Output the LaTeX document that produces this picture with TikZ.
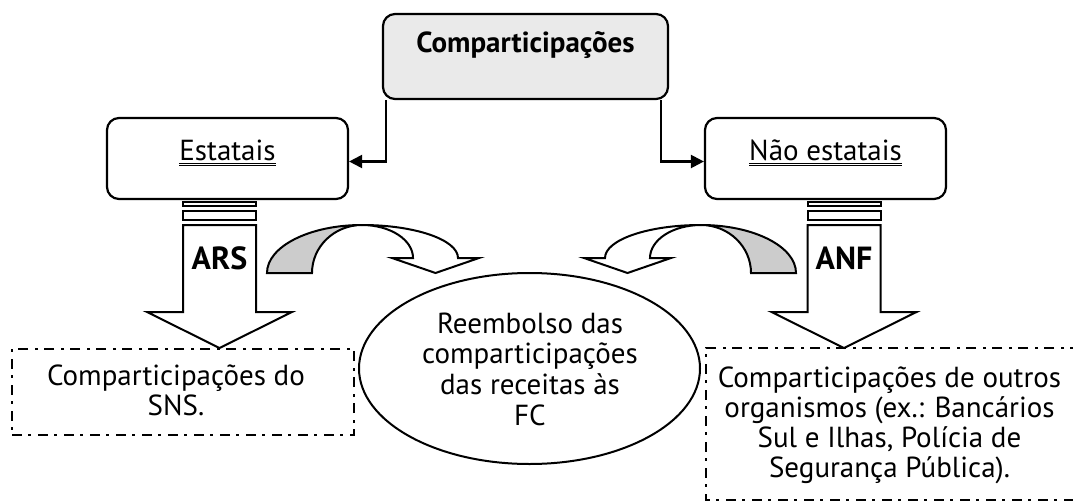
\documentclass[tikz,border=0pt]{standalone}
\usepackage{fontspec}
\setmainfont{PT Sans}
\usetikzlibrary{arrows.meta,shapes.geometric}
\definecolor{headfill}{HTML}{EAEAEA}
\definecolor{bendfill}{HTML}{CCCCCC}
\tikzset{
  txt/.style={font=\fontsize{29}{30}\selectfont, inner sep=0pt},
  boldtxt/.style={font=\bfseries\fontsize{29}{30}\selectfont, inner sep=0pt},
  frame/.style={draw, line width=2.2pt, rounded corners=12pt, inner sep=0pt},
  shapeline/.style={draw, line width=2pt, line join=miter},
  dashbox/.style={draw, line width=2.2pt, dash pattern=on 10pt off 6pt on 3pt off 7pt},
  conn/.style={line width=2.2pt, -{Triangle[length=13pt,width=13pt]}},
  uline/.style={line width=1pt},
  blockdown/.pic={
    \draw[shapeline, fill=white] (-36.5,0) rectangle (36.5,4);
    \draw[shapeline, fill=white] (-36.5,9) rectangle (36.5,18);
    \draw[shapeline, fill=white] (-36.5,23) -- (-36.5,110) -- (-72.5,110)
      -- (0,146) -- (72.5,110) -- (36.5,110) -- (36.5,23) -- cycle;
    \node[font=\bfseries\fontsize{32}{34}\selectfont, inner sep=0pt] at (0,56) {#1};
  }
}
\begin{document}
\begin{tikzpicture}[x=1pt,y=-1pt]
\useasboundingbox (0,0) rectangle (1073,503);

% top category box
\node[frame, fill=headfill, minimum width=285pt, minimum height=85pt] (top) at (525.5,56.5) {};
\node[boldtxt] (toplbl) at (525.5,45) {Comparticipações};

% the two branches
\node[frame, fill=white, minimum width=241pt, minimum height=81pt] (est) at (227.5,158.5) {};
\node[txt, anchor=base] (estlbl) at (227.5,160) {Estatais};
\node[frame, fill=white, minimum width=241pt, minimum height=81pt] (nest) at (825.5,158.5) {};
\node[txt, anchor=base] (nestlbl) at (825.5,160) {Não estatais};
% double underlines
\foreach \n in {estlbl,nestlbl}{
  \draw[uline] ([yshift=-3pt]\n.base west) -- ([yshift=-3pt]\n.base east);
  \draw[uline] ([yshift=-5.5pt]\n.base west) -- ([yshift=-5.5pt]\n.base east);
}

\draw[conn] ([xshift=4pt]top.south west) |- ([yshift=-3pt]est.east);
\draw[conn] ([xshift=-8pt]top.south east) |- ([yshift=-3pt]nest.west);

% block arrows under the branches
\pic at (219.5,202) {blockdown=ARS};
\pic at (844,202) {blockdown=ANF};

% curved arrows towards the reimbursement
\draw[shapeline, fill=bendfill] (267,273) .. controls (267,246.5) and (309.5,225) .. (362,225)
  .. controls (334.4,225) and (312,246.5) .. (312,273) -- cycle;
\draw[shapeline, fill=white] (362,225) .. controls (415,225) and (458,239.8) .. (458,258)
  -- (479,258) -- (435.5,273) -- (392,258) -- (413,258)
  .. controls (413,239.8) and (390.2,225) .. (362,225) -- cycle;

\draw[shapeline, fill=bendfill] (796,273) .. controls (796,246.5) and (753.5,225) .. (701,225)
  .. controls (728.6,225) and (751,246.5) .. (751,273) -- cycle;
\draw[shapeline, fill=white] (701,225) .. controls (648,225) and (605,239.8) .. (605,258)
  -- (584,258) -- (627.5,273) -- (671,258) -- (650,258)
  .. controls (650,239.8) and (672.8,225) .. (701,225) -- cycle;

% reimbursement ellipse (text anchored on its last line)
\node[ellipse, draw, line width=2pt, fill=white, minimum width=341pt, minimum height=191pt] (reemb) at (529.5,368.5) {};
\node[txt, align=center, anchor=base, font=\fontsize{29}{30.8}\selectfont] (reemblbl) at (530,425.5)
  {Reembolso das\\comparticipações\\das receitas às\\FC};

% dash-dot result boxes
\node[dashbox, minimum width=342pt, minimum height=86pt] (sns) at (183,392) {};
\node[txt, align=center, anchor=base] (snslbl) at (176,415) {Comparticipações do\\SNS.};

\coordinate (outA) at (1080,348);
\coordinate (outB) at (1080,500);
\draw[dashbox] (outA) -| (706,500) -- (outB);
\node[txt, align=center, anchor=base, font=\fontsize{29}{29.7}\selectfont] (outros) at (889.5,477)
  {Comparticipações de outros\\organismos (ex.: Bancários\\Sul e Ilhas, Polícia de\\Segurança Pública).};
\end{tikzpicture}
\end{document}
